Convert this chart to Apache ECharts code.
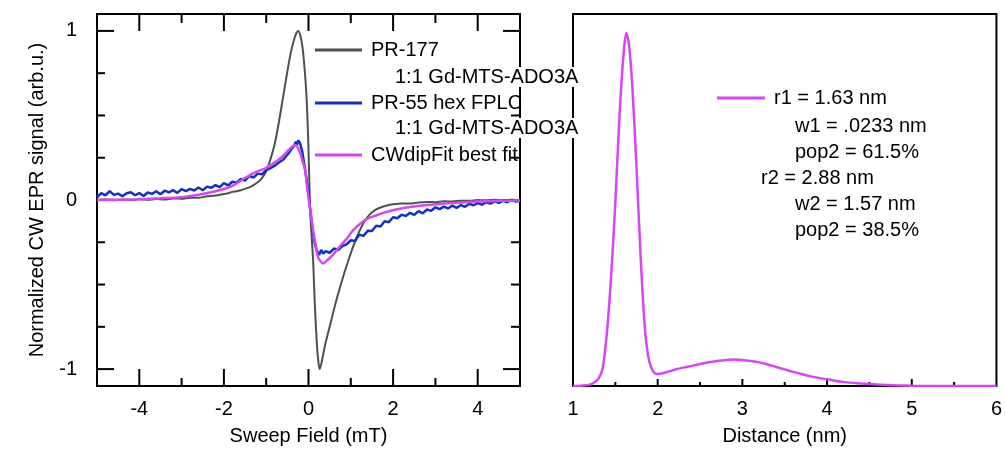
<!DOCTYPE html>
<html>
<head>
<meta charset="utf-8">
<script src="https://cdn.jsdelivr.net/npm/echarts@6/dist/echarts.min.js"></script>
<style>
  html, body { margin: 0; padding: 0; background: #fff; }
  #main { width: 1005px; height: 451px; }
</style>
</head>
<body>
<div id="main"></div>
<script>
// 左图: CW EPR 谱 (x = Sweep Field, mT)
const grayX = [-5.0, -4.8, -4.6, -4.4, -4.2, -4.0, -3.8, -3.6, -3.4, -3.2, -3.0, -2.8, -2.6, -2.4, -2.2, -2.0, -1.9, -1.8, -1.7, -1.6, -1.5, -1.4, -1.3, -1.2, -1.1, -1.0, -0.9, -0.8, -0.7, -0.6, -0.5, -0.42, -0.35, -0.29, -0.24, -0.19, -0.14, -0.09, -0.04, 0.0, 0.035, 0.07, 0.11, 0.15, 0.2, 0.24, 0.27, 0.31, 0.39, 0.52, 0.63, 0.74, 0.86, 0.98, 1.1, 1.22, 1.34, 1.45, 1.6, 1.75, 1.9, 2.0, 2.2, 2.4, 2.6, 2.8, 3.0, 3.2, 3.4, 3.6, 3.8, 4.0, 4.2, 4.4, 4.6, 4.8, 5.0];
const grayY = [0.0, 0.004, -0.002, 0.003, 0.0, 0.004, 0.001, 0.006, 0.003, 0.009, 0.008, 0.014, 0.013, 0.022, 0.026, 0.036, 0.04, 0.048, 0.052, 0.058, 0.066, 0.075, 0.088, 0.105, 0.13, 0.17, 0.24, 0.33, 0.46, 0.61, 0.76, 0.87, 0.94, 0.985, 1.0, 0.97, 0.9, 0.77, 0.58, 0.3, -0.03, -0.2, -0.36, -0.62, -0.86, -0.97, -1.0, -0.96, -0.86, -0.73, -0.62, -0.52, -0.42, -0.33, -0.245, -0.175, -0.12, -0.085, -0.055, -0.04, -0.03, -0.025, -0.02, -0.021, -0.015, -0.012, -0.013, -0.008, -0.009, -0.004, -0.005, 0.0, -0.002, 0.002, -0.001, 0.002, 0.0];

const blueX = [-5.0, -4.9, -4.8, -4.7, -4.6, -4.5, -4.4, -4.3, -4.2, -4.1, -4.0, -3.9, -3.8, -3.7, -3.6, -3.5, -3.4, -3.3, -3.2, -3.1, -3.0, -2.9, -2.8, -2.7, -2.6, -2.5, -2.4, -2.3, -2.2, -2.1, -2.0, -1.9, -1.8, -1.7, -1.6, -1.5, -1.4, -1.3, -1.2, -1.1, -1.0, -0.9, -0.8, -0.7, -0.6, -0.5, -0.45, -0.4, -0.35, -0.3, -0.27, -0.24, -0.2, -0.15, -0.1, -0.05, 0.0, 0.05, 0.1, 0.15, 0.2, 0.25, 0.3, 0.35, 0.4, 0.5, 0.6, 0.7, 0.8, 0.9, 1.0, 1.1, 1.2, 1.3, 1.4, 1.5, 1.6, 1.7, 1.8, 1.9, 2.0, 2.1, 2.2, 2.3, 2.4, 2.5, 2.6, 2.7, 2.8, 2.9, 3.0, 3.1, 3.2, 3.3, 3.4, 3.5, 3.6, 3.7, 3.8, 3.9, 4.0, 4.1, 4.2, 4.3, 4.4, 4.5, 4.6, 4.7, 4.8, 4.9, 5.0];
const blueY = [0.015, 0.04, 0.028, 0.052, 0.03, 0.038, 0.022, 0.04, 0.046, 0.028, 0.041, 0.024, 0.044, 0.036, 0.052, 0.034, 0.055, 0.045, 0.058, 0.042, 0.064, 0.052, 0.066, 0.056, 0.074, 0.058, 0.079, 0.072, 0.088, 0.076, 0.1, 0.086, 0.108, 0.102, 0.124, 0.115, 0.142, 0.133, 0.156, 0.152, 0.176, 0.188, 0.203, 0.222, 0.238, 0.268, 0.283, 0.302, 0.318, 0.345, 0.328, 0.352, 0.335, 0.29, 0.21, 0.13, 0.04, -0.08, -0.18, -0.26, -0.3, -0.325, -0.295, -0.318, -0.302, -0.312, -0.287, -0.296, -0.272, -0.262, -0.238, -0.242, -0.206, -0.212, -0.182, -0.183, -0.152, -0.157, -0.126, -0.131, -0.102, -0.108, -0.087, -0.094, -0.076, -0.088, -0.066, -0.079, -0.056, -0.064, -0.043, -0.054, -0.039, -0.05, -0.033, -0.047, -0.03, -0.04, -0.023, -0.031, -0.018, -0.027, -0.013, -0.021, -0.008, -0.017, -0.005, -0.013, 0.0, -0.009, -0.004];

const fitX = [-5.0, -4.5, -4.0, -3.5, -3.0, -2.5, -2.0, -1.75, -1.5, -1.25, -1.0, -0.75, -0.6, -0.45, -0.32, -0.25, -0.2, -0.14, -0.08, -0.04, 0.02, 0.08, 0.15, 0.23, 0.35, 0.45, 0.59, 0.74, 0.9, 1.05, 1.22, 1.4, 1.61, 1.85, 2.1, 2.4, 2.8, 3.1, 3.5, 3.9, 4.4, 5.0];
const fitY = [0.0, 0.002, 0.005, 0.01, 0.017, 0.035, 0.065, 0.09, 0.13, 0.165, 0.19, 0.23, 0.26, 0.3, 0.325, 0.31, 0.28, 0.23, 0.18, 0.09, -0.02, -0.13, -0.24, -0.34, -0.375, -0.355, -0.32, -0.275, -0.23, -0.18, -0.14, -0.11, -0.09, -0.07, -0.055, -0.042, -0.03, -0.024, -0.016, -0.01, -0.006, -0.003];

// 右图: 距离分布 (nm)
const distX = [1.0, 1.1, 1.2, 1.25, 1.3, 1.35, 1.4, 1.45, 1.5, 1.55, 1.6, 1.63, 1.66, 1.7, 1.75, 1.8, 1.85, 1.9, 1.95, 2.0, 2.1, 2.2, 2.3, 2.4, 2.5, 2.6, 2.7, 2.8, 2.9, 3.0, 3.1, 3.2, 3.3, 3.4, 3.5, 3.6, 3.7, 3.8, 3.9, 4.0, 4.2, 4.4, 4.6, 4.8, 5.0, 5.5, 6.0];
const distY = [0.0, 0.001, 0.004, 0.01, 0.02, 0.05, 0.15, 0.31, 0.52, 0.77, 0.95, 1.0, 0.97, 0.85, 0.62, 0.36, 0.16, 0.07, 0.04, 0.034, 0.039, 0.046, 0.052, 0.057, 0.062, 0.067, 0.071, 0.074, 0.075, 0.074, 0.071, 0.067, 0.061, 0.054, 0.047, 0.04, 0.034, 0.028, 0.023, 0.019, 0.011, 0.007, 0.004, 0.002, 0.001, 0.0, 0.0];

// 刻度
const fieldMajor = [-4, -2, 0, 2, 4];
const fieldMinor = [-3, -1, 1, 3];
const signalMajor = [-1, 0, 1];
const signalMinor = [-0.75, -0.5, -0.25, 0.25, 0.5, 0.75];
const distMajor = [2, 3, 4, 5];
const distMinor = [1.5, 2.5, 3.5, 4.5, 5.5];
const distLabels = [1, 2, 3, 4, 5, 6];

// 图例文字
const names = ['PR-177', 'PR-55 hex FPLC', 'CWdipFit best fit', 'r1 = 1.63 nm'];
const subLabel = '1:1 Gd-MTS-ADO3A';
const fitParams = ['w1 = .0233 nm', 'pop2 = 61.5%', 'r2 = 2.88 nm', 'w2 = 1.57 nm', 'pop2 = 38.5%'];

const FONT = 'Liberation Sans, Arial, sans-serif';
const zip = (xs, ys) => xs.map((x, i) => [x, ys[i]]);

// 坐标范围
const FIELD = [-5, 5], SIGNAL = [-1.1, 1.1], DIST = [1, 6], DENS = [0, 1.054];

// 内刻度: 用 custom 系列画, 位置由坐标轴换算, 长度用像素
function tickSeries(grid, side, vals, len) {
  const xr = grid === 0 ? FIELD : DIST;
  const yr = grid === 0 ? SIGNAL : DENS;
  const data = vals.map(v => {
    if (side === 'bottom') return [v, yr[0]];
    if (side === 'top') return [v, yr[1]];
    if (side === 'left') return [xr[0], v];
    return [xr[1], v];
  });
  return {
    type: 'custom', xAxisIndex: grid, yAxisIndex: grid, silent: true, clip: false, z: 1,
    data: data,
    renderItem: (params, api) => {
      const p = api.coord([api.value(0), api.value(1)]);
      let x2 = p[0], y2 = p[1];
      if (side === 'bottom') y2 -= len;
      else if (side === 'top') y2 += len;
      else if (side === 'left') x2 += len;
      else x2 -= len;
      return {
        type: 'line',
        shape: { x1: p[0], y1: p[1], x2: x2, y2: y2 },
        style: { stroke: '#000', lineWidth: 2 }
      };
    }
  };
}

const labelStyle = { fontSize: 20, color: '#000', fontFamily: FONT };
const nameStyle = { fontSize: 20, color: '#000', fontFamily: FONT };

function plainAxis(grid, range, extra) {
  return Object.assign({
    type: 'value', gridIndex: grid, min: range[0], max: range[1],
    axisLine: { show: false, onZero: false },
    axisTick: { show: false },
    axisLabel: { show: false },
    splitLine: { show: false }
  }, extra);
}

// 图例下方的附加文字
const notes = [
  { x: 395, y: 77, text: subLabel },
  { x: 395, y: 128, text: subLabel },
  { x: 795, y: 126, text: fitParams[0] },
  { x: 795, y: 152, text: fitParams[1] },
  { x: 761, y: 178, text: fitParams[2] },
  { x: 795, y: 204, text: fitParams[3] },
  { x: 795, y: 230, text: fitParams[4] }
];

const option = {
  animation: false,
  backgroundColor: '#fff',
  title: notes.map(t => ({
    text: t.text, left: t.x, top: t.y - 10, padding: 0, backgroundColor: '#fff',
    textStyle: { fontSize: 20, lineHeight: 20, fontWeight: 'normal', color: '#000', fontFamily: FONT }
  })),
  grid: [
    { left: 97, top: 14, width: 423, height: 373, show: true, borderColor: '#000', borderWidth: 2 },
    { left: 573, top: 14, width: 424, height: 373, show: true, borderColor: '#000', borderWidth: 2 }
  ],
  xAxis: [
    plainAxis(0, FIELD, {
      position: 'bottom',
      axisLabel: Object.assign({ show: true, customValues: fieldMajor, margin: 13 }, labelStyle),
      name: 'Sweep Field (mT)', nameLocation: 'middle', nameGap: 40, nameTextStyle: nameStyle
    }),
    plainAxis(1, DIST, {
      position: 'bottom',
      axisLabel: Object.assign({ show: true, customValues: distLabels, margin: 13 }, labelStyle),
      name: 'Distance (nm)', nameLocation: 'middle', nameGap: 40, nameTextStyle: nameStyle
    })
  ],
  yAxis: [
    plainAxis(0, SIGNAL, {
      position: 'left',
      axisLabel: Object.assign({ show: true, customValues: signalMajor, margin: 20 }, labelStyle),
      name: 'Normalized CW EPR signal (arb.u.)', nameLocation: 'middle', nameGap: 50, nameTextStyle: nameStyle
    }),
    plainAxis(1, DENS, { position: 'left' })
  ],
  legend: [
    { data: [names[0]], left: 315, top: 40 },
    { data: [names[1]], left: 315, top: 93 },
    { data: [names[2]], left: 315, top: 145 },
    { data: [names[3]], left: 717, top: 88, itemWidth: 48 }
  ].map(l => Object.assign({
    orient: 'vertical', padding: 0, itemWidth: 47, itemHeight: 3, itemGap: 0,
    icon: 'rect', selectedMode: false,
    textStyle: { fontSize: 20, lineHeight: 20, color: '#000', fontFamily: FONT, padding: [0, 0, 0, 4] }
  }, l)),
  series: [
    tickSeries(0, 'bottom', fieldMajor, 17),
    tickSeries(0, 'bottom', fieldMinor, 8),
    tickSeries(0, 'top', fieldMajor, 17),
    tickSeries(0, 'top', fieldMinor, 9),
    tickSeries(0, 'left', signalMajor, 17),
    tickSeries(0, 'left', signalMinor, 8),
    tickSeries(0, 'right', signalMajor, 17),
    tickSeries(0, 'right', signalMinor, 9),
    tickSeries(1, 'bottom', distMajor, 7),
    tickSeries(1, 'bottom', distMinor, 4),
    {
      name: names[0], type: 'line', xAxisIndex: 0, yAxisIndex: 0, symbol: 'none', smooth: 0.2, z: 2,
      lineStyle: { color: '#505050', width: 2 }, itemStyle: { color: '#505050' },
      data: zip(grayX, grayY)
    },
    {
      name: names[1], type: 'line', xAxisIndex: 0, yAxisIndex: 0, symbol: 'none', z: 2,
      lineStyle: { color: '#1030c8', width: 2.5 }, itemStyle: { color: '#1030c8' },
      data: zip(blueX, blueY)
    },
    {
      name: names[2], type: 'line', xAxisIndex: 0, yAxisIndex: 0, symbol: 'none', smooth: 0.3, z: 2,
      lineStyle: { color: '#d845f5', width: 2.5 }, itemStyle: { color: '#d845f5' },
      data: zip(fitX, fitY)
    },
    {
      name: names[3], type: 'line', xAxisIndex: 1, yAxisIndex: 1, symbol: 'none', smooth: 0.3, z: 2,
      lineStyle: { color: '#d845f5', width: 2.5 }, itemStyle: { color: '#d845f5' },
      data: zip(distX, distY)
    }
  ]
};

const chart = echarts.init(document.getElementById('main'));
chart.setOption(option);
</script>
</body>
</html>
